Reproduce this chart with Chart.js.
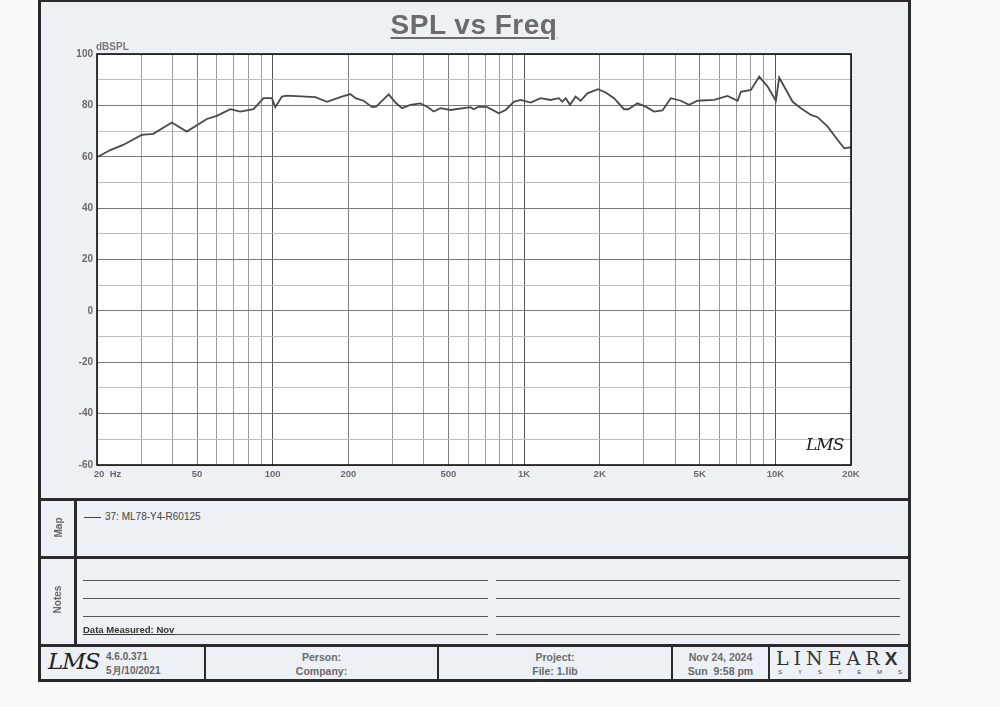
<!DOCTYPE html>
<html>
<head>
<meta charset="utf-8">
<script src="https://cdn.jsdelivr.net/npm/chart.js@4.4.1/dist/chart.umd.min.js"></script>
<style>
  body { margin:0; width:1000px; height:707px; background:#fafafa; position:relative; overflow:hidden;
         font-family:"Liberation Sans", Arial, sans-serif; }
  .a { position:absolute; }
  .hl { position:absolute; background:#2a2a2a; }
  .nl { position:absolute; height:1px; background:#555; }
  .lbl { position:absolute; font-weight:bold; color:#666; font-size:10px; }
  .ctr { position:absolute; text-align:center; font-weight:bold; color:#6a6a6a; font-size:10.5px; line-height:14px; }
</style>
</head>
<body>
<div class="a" style="left:38px;top:-1px;width:867px;height:677px;border:3px solid #2a2a2a;background:#edf0f4;"></div>

<canvas id="myChartSpl" width="1000" height="500" style="position:absolute;left:0;top:0;"></canvas>

<!-- title -->
<div class="a" style="left:324px;top:9px;width:300px;text-align:center;font-weight:bold;font-size:28px;color:#6b6b6b;letter-spacing:0.5px;text-decoration:underline;text-decoration-thickness:2px;text-underline-offset:3px;">SPL vs Freq</div>
<div class="lbl" style="left:96px;top:41px;color:#777;">dBSPL</div>
<div class="a" style="left:806px;top:434px;font-family:'DejaVu Serif';font-style:italic;font-size:17px;color:#222;letter-spacing:-1px;">LMS</div>

<!-- section lines -->
<div class="hl" style="left:38px;top:498px;width:873px;height:3px;"></div>
<div class="hl" style="left:38px;top:556px;width:873px;height:3px;"></div>
<div class="hl" style="left:38px;top:644px;width:873px;height:3px;"></div>
<div class="hl" style="left:74px;top:498px;width:3px;height:148px;"></div>
<div class="hl" style="left:204px;top:645px;width:2px;height:35px;"></div>
<div class="hl" style="left:437px;top:645px;width:2px;height:35px;"></div>
<div class="hl" style="left:671px;top:645px;width:2px;height:35px;"></div>
<div class="hl" style="left:768px;top:645px;width:2px;height:35px;"></div>

<!-- map -->
<div class="lbl" style="left:44px;top:522px;width:28px;text-align:center;transform:rotate(-90deg);">Map</div>
<div class="a" style="left:84px;top:517px;width:17px;height:1px;background:#444;"></div>
<div class="a" style="left:105px;top:511px;font-size:10px;color:#444;">37: ML78-Y4-R60125</div>

<!-- notes -->
<div class="lbl" style="left:40px;top:594px;width:34px;text-align:center;transform:rotate(-90deg);">Notes</div>
<div class="nl" style="left:83px;top:580px;width:405px;"></div>
<div class="nl" style="left:83px;top:598px;width:405px;"></div>
<div class="nl" style="left:83px;top:616px;width:405px;"></div>
<div class="nl" style="left:83px;top:634px;width:405px;"></div>
<div class="nl" style="left:496px;top:580px;width:404px;"></div>
<div class="nl" style="left:496px;top:598px;width:404px;"></div>
<div class="nl" style="left:496px;top:616px;width:404px;"></div>
<div class="nl" style="left:496px;top:634px;width:404px;"></div>
<div class="a" style="left:83px;top:624px;font-weight:bold;font-size:9.5px;color:#333;text-decoration:underline;">Data Measured: Nov</div>

<!-- footer -->
<div class="a" style="left:48px;top:648px;font-family:'DejaVu Serif';font-style:italic;font-size:23px;color:#222;letter-spacing:-1px;">LMS</div>
<div class="a" style="left:106px;top:650px;font-weight:bold;font-size:10px;color:#666;line-height:14px;">4.6.0.371<br>5月/10/2021</div>
<div class="ctr" style="left:206px;top:650px;width:231px;">Person:<br>Company:</div>
<div class="ctr" style="left:439px;top:650px;width:232px;">Project:<br>File: 1.lib</div>
<div class="ctr" style="left:673px;top:650px;width:95px;">Nov 24, 2024<br>Sun&nbsp;&nbsp;9:58 pm</div>
<div class="a" style="left:776px;top:647px;font-family:'DejaVu Serif';font-size:19px;color:#333;letter-spacing:5px;">LINEAR<b style="font-family:'Liberation Sans';font-weight:900;">X</b></div>
<div class="a" style="left:778px;top:669px;width:124px;font-size:6px;color:#444;display:flex;justify-content:space-between;"><span>S</span><span>Y</span><span>S</span><span>T</span><span>E</span><span>M</span><span>S</span></div>

<script>
var freqHz = [20, 22.6, 25.4, 30.1, 33.5, 39.7, 45.5, 54.7, 60, 67.8, 74.3, 83.9, 92, 99.3, 102.4, 108.8, 114,
    147.8, 164.6, 185.9, 203.7, 213.5, 230, 248.6, 258, 289.5, 307.9, 327, 353, 387, 411.7, 437.5, 465, 510,
    612, 631, 660, 714, 794, 845, 911, 969, 1062, 1164, 1276, 1376, 1420, 1465, 1524, 1604, 1680, 1787, 1970,
    2113, 2281, 2500, 2600, 2826, 3050, 3290, 3556, 3837, 4204, 4540, 4900, 5706, 6453, 7075, 7291, 7992, 8625,
    9315, 10050, 10360, 11717, 12644, 13856, 14730, 16150, 17700, 18800, 20000];
var splDb = [59.8, 62.6, 64.6, 68.5, 68.9, 73.3, 69.8, 74.7, 75.9, 78.5, 77.6, 78.5, 82.8, 82.8, 79.3, 83.4, 83.8,
    83.2, 81.4, 83.2, 84.4, 82.8, 81.8, 79.3, 79.5, 84.3, 81.1, 78.9, 80.2, 80.8, 79.5, 77.6, 78.9, 78.2,
    79.3, 78.5, 79.5, 79.3, 76.9, 78.2, 81.4, 82.1, 81.1, 82.8, 82.1, 82.8, 81.4, 82.8, 80.2, 83.4, 81.8, 84.7, 86.3,
    85.0, 82.8, 78.5, 78.5, 80.8, 79.5, 77.6, 78.0, 82.8, 81.8, 80.2, 81.8, 82.1, 83.7, 81.8, 85.3, 86.0, 91.2,
    87.3, 81.8, 90.8, 81.4, 78.9, 76.3, 75.4, 71.7, 66.5, 63.3, 63.7];

var xLabelFreqs = [20, 50, 100, 200, 500, 1000, 2000, 5000, 10000, 20000];
var xLabelTexts = ['        20  Hz', '50', '100', '200', '500', '1K', '2K', '5K', '10K', '20K'];

// grid lines on every 1..9 x decade
var gridFreqs = [];
for (var e = 1; e <= 4; e++) {
    for (var d = 1; d <= 9; d++) {
        var f = d * Math.pow(10, e);
        if (f >= 20 && f <= 20000) gridFreqs.push(f);
    }
}

var plotFrame = {
    id: 'plotFrame',
    beforeDraw: function (chart) {
        var a = chart.chartArea;
        chart.ctx.save();
        chart.ctx.fillStyle = '#ffffff';
        chart.ctx.fillRect(a.left, a.top, a.right - a.left, a.bottom - a.top);
        chart.ctx.restore();
    },
    afterDraw: function (chart) {
        var a = chart.chartArea;
        chart.ctx.save();
        chart.ctx.strokeStyle = '#111';
        chart.ctx.lineWidth = 1.6;
        chart.ctx.strokeRect(a.left, a.top, a.right - a.left, a.bottom - a.top);
        chart.ctx.restore();
    }
};

const ctx = document.getElementById('myChartSpl');

new Chart(ctx, {
    type: 'line',
    data: {
        datasets: [{
            label: '37: ML78-Y4-R60125',
            data: freqHz.map(function (f, i) { return { x: f, y: splDb[i] }; }),
            borderColor: '#4a4a4a',
            borderWidth: 1.8,
            pointRadius: 0,
            tension: 0
        }]
    },
    options: {
        responsive: false,
        animation: false,
        layout: { padding: { left: 57, top: 54, right: 149, bottom: 10 } },
        plugins: { legend: { display: false }, tooltip: { enabled: false } },
        scales: {
            x: {
                type: 'logarithmic',
                min: 20,
                max: 20000,
                afterBuildTicks: function (scale) {
                    scale.ticks = gridFreqs.map(function (v) { return { value: v }; });
                },
                afterFit: function (scale) { scale.height = 25; },
                grid: {
                    drawTicks: false,
                    color: function (c) {
                        var v = c.tick && c.tick.value;
                        if (v === 100 || v === 1000 || v === 10000) return '#555';
                        return xLabelFreqs.indexOf(v) >= 0 ? '#7c7c7c' : '#9c9c9c';
                    },
                    lineWidth: 1
                },
                border: { display: false },
                ticks: {
                    autoSkip: false,
                    maxRotation: 0,
                    minRotation: 0,
                    padding: 4,
                    color: '#6a6a6a',
                    font: { family: 'Liberation Sans', size: 9.5, weight: 'bold' },
                    callback: function (value) {
                        var i = xLabelFreqs.indexOf(value);
                        return i >= 0 ? xLabelTexts[i] : '';
                    }
                }
            },
            y: {
                min: -60,
                max: 100,
                afterFit: function (scale) { scale.width = 40; },
                grid: {
                    drawTicks: false,
                    color: function (c) { return c.tick && c.tick.value % 20 === 0 ? '#7a7a7a' : '#bdbdbd'; },
                    lineWidth: 1
                },
                border: { display: false },
                ticks: {
                    stepSize: 10,
                    padding: 4,
                    color: '#6a6a6a',
                    font: { family: 'Liberation Sans', size: 10, weight: 'bold' },
                    callback: function (value) { return value % 20 === 0 ? String(value) : ''; }
                }
            }
        }
    },
    plugins: [plotFrame]
});
</script>
</body>
</html>
